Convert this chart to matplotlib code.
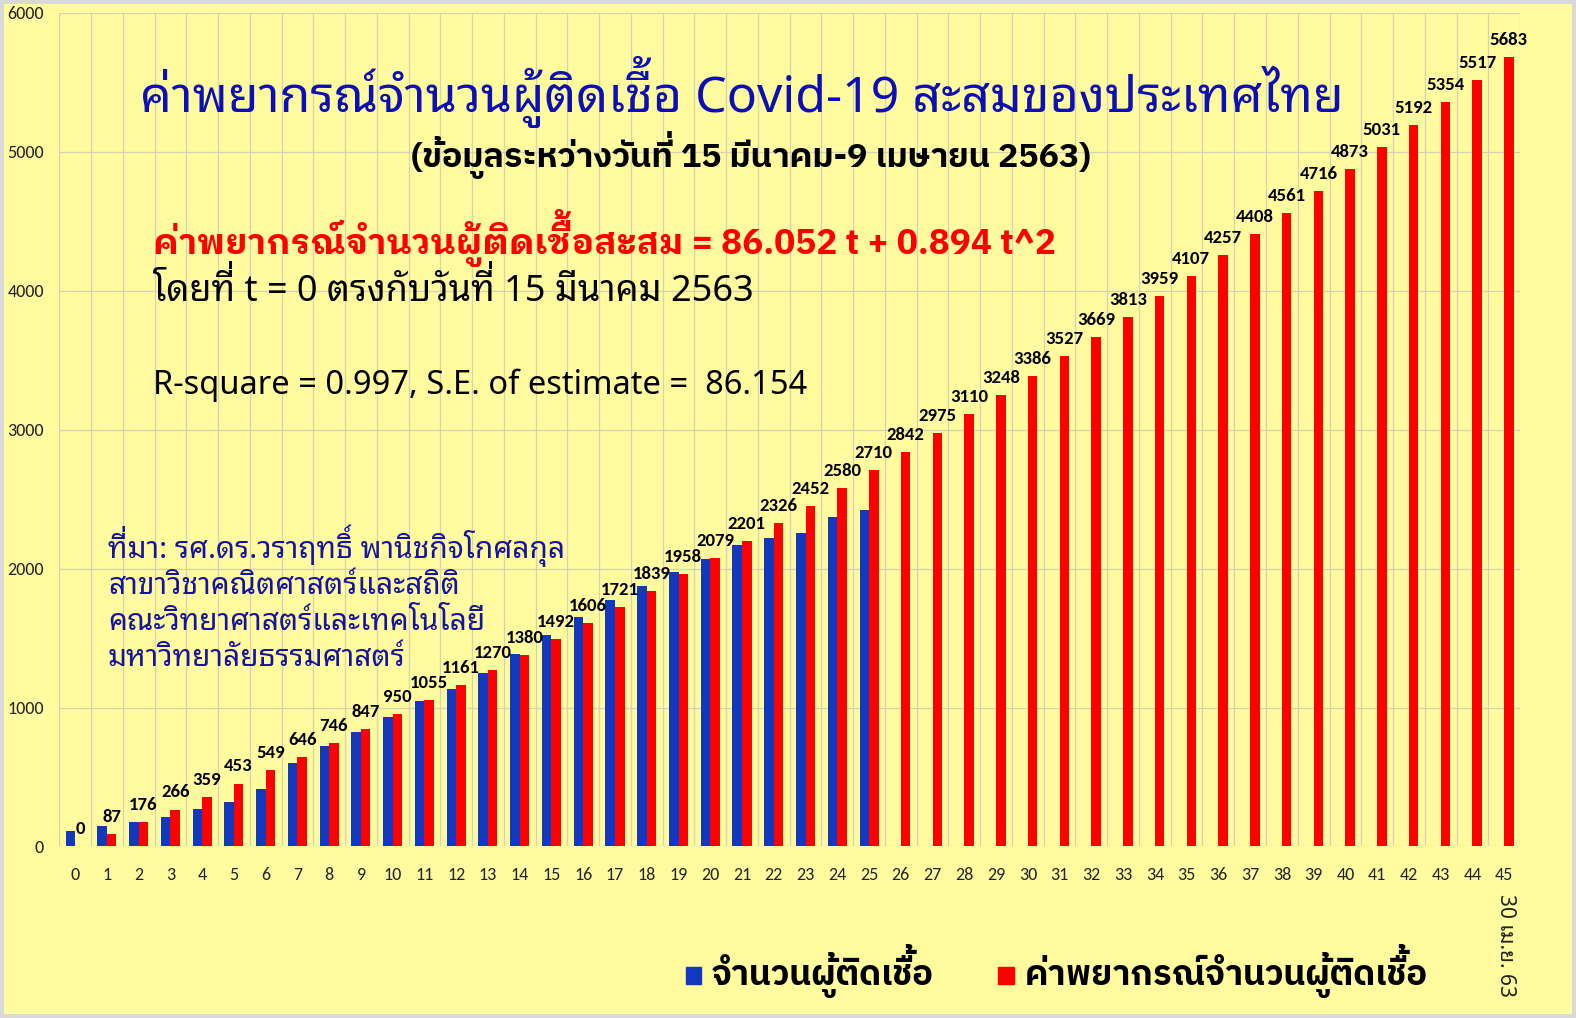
import matplotlib
matplotlib.use("Agg")
import matplotlib.pyplot as plt
import numpy as np
from matplotlib import font_manager, _text_helpers
from matplotlib.font_manager import FontProperties
from matplotlib.ft2font import LoadFlags

# วันที่ t นับจาก 15 มีนาคม 2563
t = list(range(46))

# จำนวนผู้ติดเชื้อสะสมจริง (15 มี.ค. - 9 เม.ย. 2563)
actual = [114, 147, 177, 212, 272, 322, 411, 599, 721, 827, 934, 1045, 1136,
          1245, 1388, 1524, 1651, 1771, 1875, 1978, 2067, 2169, 2220, 2258,
          2369, 2423]

# ค่าพยากรณ์จากสมการ 86.052 t + 0.894 t^2
predicted = [0, 87, 176, 266, 359, 453, 549, 646, 746, 847, 950, 1055, 1161,
             1270, 1380, 1492, 1606, 1721, 1839, 1958, 2079, 2201, 2326, 2452,
             2580, 2710, 2842, 2975, 3110, 3248, 3386, 3527, 3669, 3813, 3959,
             4107, 4257, 4408, 4561, 4716, 4873, 5031, 5192, 5354, 5517, 5683]

yticks = [0, 1000, 2000, 3000, 4000, 5000, 6000]

BG = "#FFFB9E"
BLUE = "#1238BE"
RED = "#FF0000"
GRID = "#D6D3B4"

THAI_LOOP = ["Noto Sans Thai Looped", "IBM Plex Sans Thai Looped", "DejaVu Sans"]
THAI_LOOP_BOLD = ["IBM Plex Sans Thai Looped", "DejaVu Sans"]
THAI_PLAIN = ["IBM Plex Sans Thai", "DejaVu Sans"]
NUM = ["Carlito", "Lato", "DejaVu Sans"]

FIG_W, FIG_H, DPI = 1576, 1018, 100

fig = plt.figure(figsize=(FIG_W / DPI, FIG_H / DPI), dpi=DPI)
fig.patch.set_facecolor(BG)
fig.patch.set_edgecolor("#D9D9D9")
fig.patch.set_linewidth(4.5)

# ---- ข้อความภาษาไทย ----
# matplotlib วางอักษรทีละตัว วรรณยุกต์ที่อยู่บนสระบนจึงทับกัน
# ตัววรรณยุกต์พวกนั้นออกมาวาดเป็นข้อความแยก แล้วยกขึ้นเหนือสระ
UPPER_VOWELS = "\u0e31\u0e34\u0e35\u0e36\u0e37\u0e47"
TONE_MARKS = "\u0e48\u0e49\u0e4a\u0e4b\u0e4c"


def glyph_box(item):
    g = item.ft_object.load_glyph(item.glyph_idx, flags=LoadFlags.NO_HINTING)
    x0 = item.x + g.horiBearingX / 64
    return x0, x0 + g.width / 64, (g.horiBearingY - g.height) / 64, g.horiBearingY / 64


def thai_text(x, y, s, size, family, weight="normal", color="black", ha="left"):
    """x, y เป็นพิกเซลจากมุมซ้ายบน, y คือเส้นฐาน"""
    prop = FontProperties(family=family, size=size, weight=weight)
    font = font_manager.get_font(font_manager.fontManager._find_fonts_by_props(prop))
    font.set_size(size, DPI)
    items = list(_text_helpers.layout(s, font))
    boxes = [glyph_box(it) for it in items]
    if ha == "center":
        x = x - (min(b[0] for b in boxes) + max(b[1] for b in boxes)) / 2
    main, lifted = "", []
    for i, it in enumerate(items):
        if it.char in TONE_MARKS and i > 0 and items[i - 1].char in UPPER_VOWELS:
            lift = boxes[i - 1][3] - boxes[i][2] + size * 0.06
            if lift > 0:
                lifted.append((it.char, it.x, lift))
                continue
        main += it.char
    kw = dict(fontproperties=prop, color=color, ha="left", va="baseline")
    fig.text(x / FIG_W, 1 - y / FIG_H, main, **kw)
    for ch, dx, lift in lifted:
        # นำหน้าด้วยช่องว่างหนึ่งตัว แล้วเลื่อนกลับเท่าความกว้างของช่องว่าง
        mark = " " + ch
        shift = list(_text_helpers.layout(mark, font))[1].x
        fig.text((x + dx - shift) / FIG_W, 1 - (y - lift) / FIG_H, mark, **kw)


# ---- กราฟแท่ง ----
ax = fig.add_axes([0.0376, 0.1685, 0.9269, 0.819])
ax.set_facecolor(BG)

w = 0.3
x = np.array(t)
ax.bar(x[:len(actual)] - w / 2, actual, width=w, color=BLUE, zorder=3)
ax.bar(x + w / 2, predicted, width=w, color=RED, zorder=3)

# ตัวเลขค่าพยากรณ์เหนือแท่งสีแดง
for xi, v in zip(x, predicted):
    ax.text(xi + w / 2, v + 65, str(v), ha="center", va="bottom",
            fontsize=13.5, fontweight="bold", family=NUM, color="black", zorder=4)

ax.set_xlim(-0.5, 45.5)
ax.set_ylim(0, 6000)
ax.set_yticks(yticks)
ax.set_xticks(x)
ax.set_xticks(np.arange(-0.5, 46, 1), minor=True)
ax.grid(False)
ax.grid(True, which="minor", axis="x", color=GRID, lw=0.9, zorder=0)
ax.grid(True, which="major", axis="y", color=GRID, lw=0.9, zorder=0)
ax.tick_params(which="both", length=0)
ax.tick_params(axis="y", pad=11)
ax.tick_params(axis="x", pad=15)
for lab in ax.get_xticklabels() + ax.get_yticklabels():
    lab.set_family(NUM)
    lab.set_fontsize(13)
    lab.set_color("#222222")
for s in ax.spines.values():
    s.set_visible(False)

# ---- ชื่อกราฟและคำอธิบาย ----
thai_text(741, 112, "ค่าพยากรณ์จำนวนผู้ติดเชื้อ Covid-19 สะสมของประเทศไทย",
          36, THAI_LOOP, color="#0C10B4", ha="center")
thai_text(751, 167, "(ข้อมูลระหว่างวันที่ 15 มีนาคม-9 เมษายน 2563)",
          24.5, THAI_PLAIN, weight="bold", ha="center")
thai_text(153, 254, "ค่าพยากรณ์จำนวนผู้ติดเชื้อสะสม = 86.052 t + 0.894 t^2",
          25.3, THAI_LOOP_BOLD, weight="bold", color=RED)
thai_text(153, 301, "โดยที่ t = 0 ตรงกับวันที่ 15 มีนาคม 2563", 26, THAI_LOOP)
thai_text(153, 394, "R-square = 0.997, S.E. of estimate =  86.154", 23.5, THAI_LOOP)

source = ["ที่มา: รศ.ดร.วราฤทธิ์ พานิชกิจโกศลกุล",
          "สาขาวิชาคณิตศาสตร์และสถิติ",
          "คณะวิทยาศาสตร์และเทคโนโลยี",
          "มหาวิทยาลัยธรรมศาสตร์"]
for i, line in enumerate(source):
    thai_text(108, 558 + i * 36, line, 21.5, THAI_LOOP, color="#1414A0")

# วันที่ของ t = 45
fig.text(0.955, 0.0717, "30 เม.ย. 63", rotation=270, ha="center", va="center",
         fontsize=15, color="#222222", family=THAI_LOOP)

# ---- คำอธิบายสัญลักษณ์ ----
fig.patches.append(plt.Rectangle((686 / FIG_W, 1 - 984 / FIG_H), 15 / FIG_W, 17 / FIG_H,
                                 color=BLUE, transform=fig.transFigure, figure=fig))
thai_text(712, 985, "จำนวนผู้ติดเชื้อ", 25, THAI_PLAIN, weight="bold")
fig.patches.append(plt.Rectangle((998 / FIG_W, 1 - 984 / FIG_H), 16 / FIG_W, 17 / FIG_H,
                                 color=RED, transform=fig.transFigure, figure=fig))
thai_text(1025, 985, "ค่าพยากรณ์จำนวนผู้ติดเชื้อ", 25, THAI_PLAIN, weight="bold")

fig.savefig("out.png", dpi=DPI, facecolor=BG, edgecolor="#D9D9D9")
